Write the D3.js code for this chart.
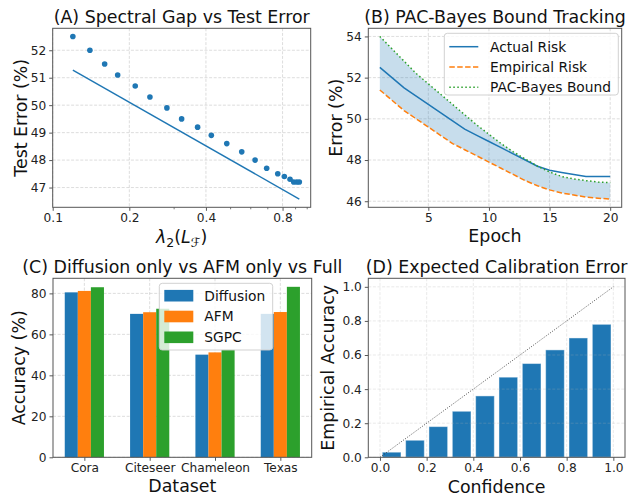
<!DOCTYPE html>
<html>
<head>
<meta charset="utf-8">
<script src="https://cdn.jsdelivr.net/npm/d3@7"></script>
<style>
  body { margin: 0; background: #fff; }
  svg { display: block; font-family: "DejaVu Sans", sans-serif; }
</style>
</head>
<body>
<script>
// ---- data ----
// (A) spectral gap vs test error
const lambda2 = [0.120, 0.140, 0.160, 0.180, 0.211, 0.241, 0.281, 0.321, 0.371, 0.420,
                 0.483, 0.553, 0.624, 0.693, 0.766, 0.813, 0.856, 0.885, 0.910, 0.931];
const testError = [52.5, 52.0, 51.5, 51.1, 50.7, 50.3, 49.9, 49.5, 49.2, 48.9,
                   48.6, 48.3, 48.0, 47.7, 47.5, 47.4, 47.3, 47.2, 47.2, 47.2];
const fitLambda = [0.120, 0.931];
const fitError = [51.28, 46.58];
const lambdaTicks = [0.1, 0.2, 0.4, 0.8];
const lambdaMinor = [0.3, 0.5, 0.6, 0.7, 0.9, 1.0];

// (B) PAC-Bayes bound tracking
const epochs = [1, 2, 3, 4, 5, 6, 7, 8, 9, 10, 11, 12, 13, 14, 15, 16, 17, 18, 19, 20];
const actualRisk = [52.5, 52.0, 51.5, 51.1, 50.7, 50.3, 49.9, 49.5, 49.2, 48.9,
                    48.6, 48.3, 48.0, 47.7, 47.5, 47.4, 47.3, 47.2, 47.2, 47.2];
const empiricalRisk = [51.4, 50.9, 50.4, 50.0, 49.6, 49.2, 48.8, 48.5, 48.2, 47.9,
                       47.6, 47.3, 47.0, 46.75, 46.55, 46.4, 46.3, 46.2, 46.15, 46.1];
const pacBound = [54.0, 53.4, 52.8, 52.2, 51.7, 51.2, 50.7, 50.2, 49.7, 49.25,
                  48.8, 48.4, 48.05, 47.7, 47.42, 47.2, 47.08, 47.0, 46.93, 46.9];
const epochTicks = [5, 10, 15, 20];
const errorTicks = [46, 48, 50, 52, 54];

// (C) ablation
const datasets = ['Cora', 'Citeseer', 'Chameleon', 'Texas'];
const diffusionAcc = [80.5, 70.0, 50.1, 70.0];
const afmAcc = [81.2, 70.8, 51.2, 70.9];
const sgpcAcc = [83.0, 72.5, 52.5, 83.2];
const accTicks = [0, 20, 40, 60, 80];

// (D) reliability diagram
const binCenters = [0.05, 0.15, 0.25, 0.35, 0.45, 0.55, 0.65, 0.75, 0.85, 0.95];
const binAccuracy = [0.03, 0.10, 0.18, 0.27, 0.36, 0.47, 0.55, 0.63, 0.70, 0.78];
const confTicks = [0, 0.2, 0.4, 0.6, 0.8, 1.0];

const C0 = '#1f77b4', C1 = '#ff7f0e', C2 = '#2ca02c';
const TITLE_FS = 17.4, LABEL_FS = 17.4, TICK_FS = 12.2, LEGEND_FS = 13.8;

const svg = d3.select('body').append('svg')
    .attr('width', 630)
    .attr('height', 498);

// 每个子图的绘图区
const boxes = {
    A: { left: 52.7, right: 310.7, top: 28.3, bottom: 207.3 },
    B: { left: 368.3, right: 621.7, top: 28.3, bottom: 207.3 },
    C: { left: 53, right: 311.7, top: 278.3, bottom: 457.3 },
    D: { left: 368.3, right: 625, top: 278.3, bottom: 457.3 }
};

function drawGrid(g, box, x, y, xt, yt) {
    const grid = g.append('g');
    grid.selectAll('line.gx').data(xt).enter().append('line')
        .attr('x1', d => x(d)).attr('x2', d => x(d))
        .attr('y1', box.top).attr('y2', box.bottom);
    grid.selectAll('line.gy').data(yt).enter().append('line')
        .attr('y1', d => y(d)).attr('y2', d => y(d))
        .attr('x1', box.left).attr('x2', box.right);
    grid.selectAll('line')
        .attr('stroke', '#b0b0b0')
        .attr('stroke-opacity', 0.55)
        .attr('stroke-width', 0.8)
        .attr('stroke-dasharray', '3,1.6');
    return grid;
}

function drawAxes(g, box, x, y, xt, yt, xfmt, yfmt) {
    const ax = g.append('g')
        .attr('transform', `translate(0,${box.bottom})`)
        .call(d3.axisBottom(x).tickValues(xt).tickFormat(xfmt).tickSize(3.5).tickPadding(3));
    const ay = g.append('g')
        .attr('transform', `translate(${box.left},0)`)
        .call(d3.axisLeft(y).tickValues(yt).tickFormat(yfmt).tickSize(3.5).tickPadding(3));
    [ax, ay].forEach(a => {
        a.select('.domain').remove();
        a.selectAll('line').attr('stroke', '#444').attr('stroke-width', 0.9);
        a.selectAll('text')
            .attr('fill', '#222')
            .style('font-size', TICK_FS + 'px')
            .style('font-family', '"DejaVu Sans", sans-serif');
    });
    return { ax, ay };
}

function drawFrame(g, box) {
    g.append('rect')
        .attr('x', box.left).attr('y', box.top)
        .attr('width', box.right - box.left)
        .attr('height', box.bottom - box.top)
        .attr('fill', 'none')
        .attr('stroke', '#555')
        .attr('stroke-width', 1);
}

function drawTitle(g, box, text) {
    g.append('text')
        .attr('x', (box.left + box.right) / 2)
        .attr('y', box.top - 5.8)
        .attr('text-anchor', 'middle')
        .attr('fill', '#111')
        .style('font-size', TITLE_FS + 'px')
        .text(text);
}

function drawYLabel(g, box, xpos, text) {
    g.append('text')
        .attr('transform', `translate(${xpos},${(box.top + box.bottom) / 2}) rotate(-90)`)
        .attr('text-anchor', 'middle')
        .attr('fill', '#111')
        .style('font-size', LABEL_FS + 'px')
        .text(text);
}

function drawXLabel(g, box, ypos, text) {
    return g.append('text')
        .attr('x', (box.left + box.right) / 2)
        .attr('y', ypos)
        .attr('text-anchor', 'middle')
        .attr('fill', '#111')
        .style('font-size', LABEL_FS + 'px')
        .text(text);
}

function clipFor(id, box) {
    svg.append('clipPath').attr('id', id)
        .append('rect')
        .attr('x', box.left).attr('y', box.top)
        .attr('width', box.right - box.left)
        .attr('height', box.bottom - box.top);
    return `url(#${id})`;
}

// ---------- (A) 谱间隙 vs 测试误差 ----------
(function panelA() {
    const box = boxes.A;
    const g = svg.append('g');
    const x = d3.scaleLog().domain([0.1, 1.032]).range([box.left, box.right]);
    const y = d3.scaleLinear().domain([46.28, 52.8]).range([box.bottom, box.top]);
    const yt = [47, 48, 49, 50, 51, 52];

    drawGrid(g, box, x, y, lambdaTicks, yt);

    const clip = clipFor('clipA', box);
    const plot = g.append('g').attr('clip-path', clip);
    plot.append('path')
        .datum(fitLambda.map((l, i) => [l, fitError[i]]))
        .attr('d', d3.line().x(d => x(d[0])).y(d => y(d[1])))
        .attr('fill', 'none')
        .attr('stroke', C0)
        .attr('stroke-width', 1.4);
    plot.selectAll('circle')
        .data(lambda2.map((l, i) => [l, testError[i]]))
        .enter().append('circle')
        .attr('cx', d => x(d[0]))
        .attr('cy', d => y(d[1]))
        .attr('r', 2.8)
        .attr('fill', C0);

    drawAxes(g, box, x, y, lambdaTicks, yt, d3.format('.1f'), d3.format('d'));
    // 对数坐标的次刻度
    g.append('g').selectAll('line').data(lambdaMinor).enter().append('line')
        .attr('x1', d => x(d)).attr('x2', d => x(d))
        .attr('y1', box.bottom).attr('y2', box.bottom + 2)
        .attr('stroke', '#444').attr('stroke-width', 0.7);
    drawFrame(g, box);
    drawTitle(g, box, '(A) Spectral Gap vs Test Error');
    drawYLabel(g, box, 26.5, 'Test Error (%)');

    const lab = g.append('text')
        .attr('x', (box.left + box.right) / 2)
        .attr('y', 242.5)
        .attr('text-anchor', 'middle')
        .attr('fill', '#111')
        .style('font-size', LABEL_FS + 'px');
    lab.append('tspan').attr('font-style', 'italic').text('λ');
    lab.append('tspan').attr('dy', 4).style('font-size', '12.5px').text('2');
    lab.append('tspan').attr('dy', -4).text('(');
    lab.append('tspan').attr('font-style', 'italic').text('L');
    lab.append('tspan').attr('dy', 4).style('font-size', '12.5px').text('ℱ');
    lab.append('tspan').attr('dy', -4).text(')');
})();

// ---------- (B) PAC-Bayes 界 ----------
(function panelB() {
    const box = boxes.B;
    const g = svg.append('g');
    const x = d3.scaleLinear().domain([0.05, 20.95]).range([box.left, box.right]);
    const y = d3.scaleLinear().domain([45.705, 54.395]).range([box.bottom, box.top]);

    drawGrid(g, box, x, y, epochTicks, errorTicks);

    const clip = clipFor('clipB', box);
    const plot = g.append('g').attr('clip-path', clip);

    plot.append('path')
        .datum(epochs.map((e, i) => ({ e, lo: empiricalRisk[i], hi: pacBound[i] })))
        .attr('d', d3.area().x(d => x(d.e)).y0(d => y(d.lo)).y1(d => y(d.hi)))
        .attr('fill', C0)
        .attr('fill-opacity', 0.25);

    const series = [
        { values: actualRisk, color: C0, dash: null, name: 'Actual Risk' },
        { values: empiricalRisk, color: C1, dash: '5.5,2.4', name: 'Empirical Risk' },
        { values: pacBound, color: C2, dash: '1.5,2.5', name: 'PAC-Bayes Bound' }
    ];
    const line = d3.line().x((d, i) => x(epochs[i])).y(d => y(d));
    series.forEach(s => {
        plot.append('path')
            .datum(s.values)
            .attr('d', line)
            .attr('fill', 'none')
            .attr('stroke', s.color)
            .attr('stroke-width', 1.5)
            .attr('stroke-dasharray', s.dash);
    });

    drawAxes(g, box, x, y, epochTicks, errorTicks, d3.format('d'), d3.format('d'));
    drawFrame(g, box);
    drawTitle(g, box, '(B) PAC-Bayes Bound Tracking');
    drawYLabel(g, box, 341.5, 'Error (%)');
    drawXLabel(g, box, 242, 'Epoch');

    // 图例
    const lg = g.append('g');
    lg.append('rect')
        .attr('x', 444.3).attr('y', 33.3)
        .attr('width', 174).attr('height', 61.7)
        .attr('rx', 3)
        .attr('fill', 'white').attr('fill-opacity', 0.8)
        .attr('stroke', '#cccccc').attr('stroke-width', 0.9);
    const rows = [46.7, 67.0, 87.3];
    series.forEach((s, i) => {
        lg.append('line')
            .attr('x1', 449.3).attr('x2', 478.3)
            .attr('y1', rows[i]).attr('y2', rows[i])
            .attr('stroke', s.color)
            .attr('stroke-width', 1.5)
            .attr('stroke-dasharray', s.dash);
        lg.append('text')
            .attr('x', 490).attr('y', rows[i])
            .attr('dy', '0.36em')
            .attr('fill', '#111')
            .style('font-size', LEGEND_FS + 'px')
            .text(s.name);
    });
})();

// ---------- (C) 消融实验 ----------
(function panelC() {
    const box = boxes.C;
    const g = svg.append('g');
    const x = d3.scaleLinear().domain([-0.48, 3.48]).range([box.left, box.right]);
    const y = d3.scaleLinear().domain([0, 87.36]).range([box.bottom, box.top]);
    const idx = datasets.map((d, i) => i);

    drawGrid(g, box, x, y, idx, accTicks);

    const width = 0.2;
    const groups = [
        { values: diffusionAcc, color: C0, offset: -width, name: 'Diffusion' },
        { values: afmAcc, color: C1, offset: 0, name: 'AFM' },
        { values: sgpcAcc, color: C2, offset: width, name: 'SGPC' }
    ];
    groups.forEach(s => {
        g.append('g').selectAll('rect')
            .data(s.values)
            .enter().append('rect')
            .attr('x', (d, i) => x(i + s.offset - width / 2))
            .attr('width', x(width) - x(0))
            .attr('y', d => y(d))
            .attr('height', d => y(0) - y(d))
            .attr('fill', s.color);
    });

    drawAxes(g, box, x, y, idx, accTicks, i => datasets[i], d3.format('d'));
    drawFrame(g, box);
    drawTitle(g, box, '(C) Diffusion only vs AFM only vs Full');
    drawYLabel(g, box, 24.5, 'Accuracy (%)');
    drawXLabel(g, box, 492, 'Dataset');

    const lg = g.append('g');
    lg.append('rect')
        .attr('x', 159.3).attr('y', 283.3)
        .attr('width', 113.4).attr('height', 66.7)
        .attr('rx', 3)
        .attr('fill', 'white').attr('fill-opacity', 0.8)
        .attr('stroke', '#cccccc').attr('stroke-width', 0.9);
    const rows = [295.7, 316.5, 337.3];
    groups.forEach((s, i) => {
        lg.append('rect')
            .attr('x', 164.3).attr('y', rows[i] - 5.8)
            .attr('width', 29).attr('height', 11.6)
            .attr('fill', s.color);
        lg.append('text')
            .attr('x', 204.3).attr('y', rows[i])
            .attr('dy', '0.36em')
            .attr('fill', '#111')
            .style('font-size', LEGEND_FS + 'px')
            .text(s.name);
    });
})();

// ---------- (D) 校准误差 ----------
(function panelD() {
    const box = boxes.D;
    const g = svg.append('g');
    const x = d3.scaleLinear().domain([-0.05, 1.05]).range([box.left, box.right]);
    const y = d3.scaleLinear().domain([0, 1.05]).range([box.bottom, box.top]);

    const barW = 0.08;
    g.append('g').selectAll('rect')
        .data(binCenters.map((c, i) => [c, binAccuracy[i]]))
        .enter().append('rect')
        .attr('x', d => x(d[0] - barW / 2))
        .attr('width', x(barW) - x(0))
        .attr('y', d => y(d[1]))
        .attr('height', d => y(0) - y(d[1]))
        .attr('fill', C0)
        .attr('stroke', 'white')
        .attr('stroke-opacity', 0.45)
        .attr('stroke-width', 1);

    drawGrid(g, box, x, y, confTicks, confTicks).attr('opacity', 0.6);

    g.append('line')
        .attr('x1', x(0)).attr('y1', y(0))
        .attr('x2', x(1)).attr('y2', y(1))
        .attr('stroke', '#333')
        .attr('stroke-opacity', 0.85)
        .attr('stroke-width', 1)
        .attr('stroke-dasharray', '1,1.6');

    drawAxes(g, box, x, y, confTicks, confTicks, d3.format('.1f'), d3.format('.1f'));
    drawFrame(g, box);
    drawTitle(g, box, '(D) Expected Calibration Error');
    drawYLabel(g, box, 334, 'Empirical Accuracy');
    drawXLabel(g, box, 492.5, 'Confidence');
})();
</script>
</body>
</html>
